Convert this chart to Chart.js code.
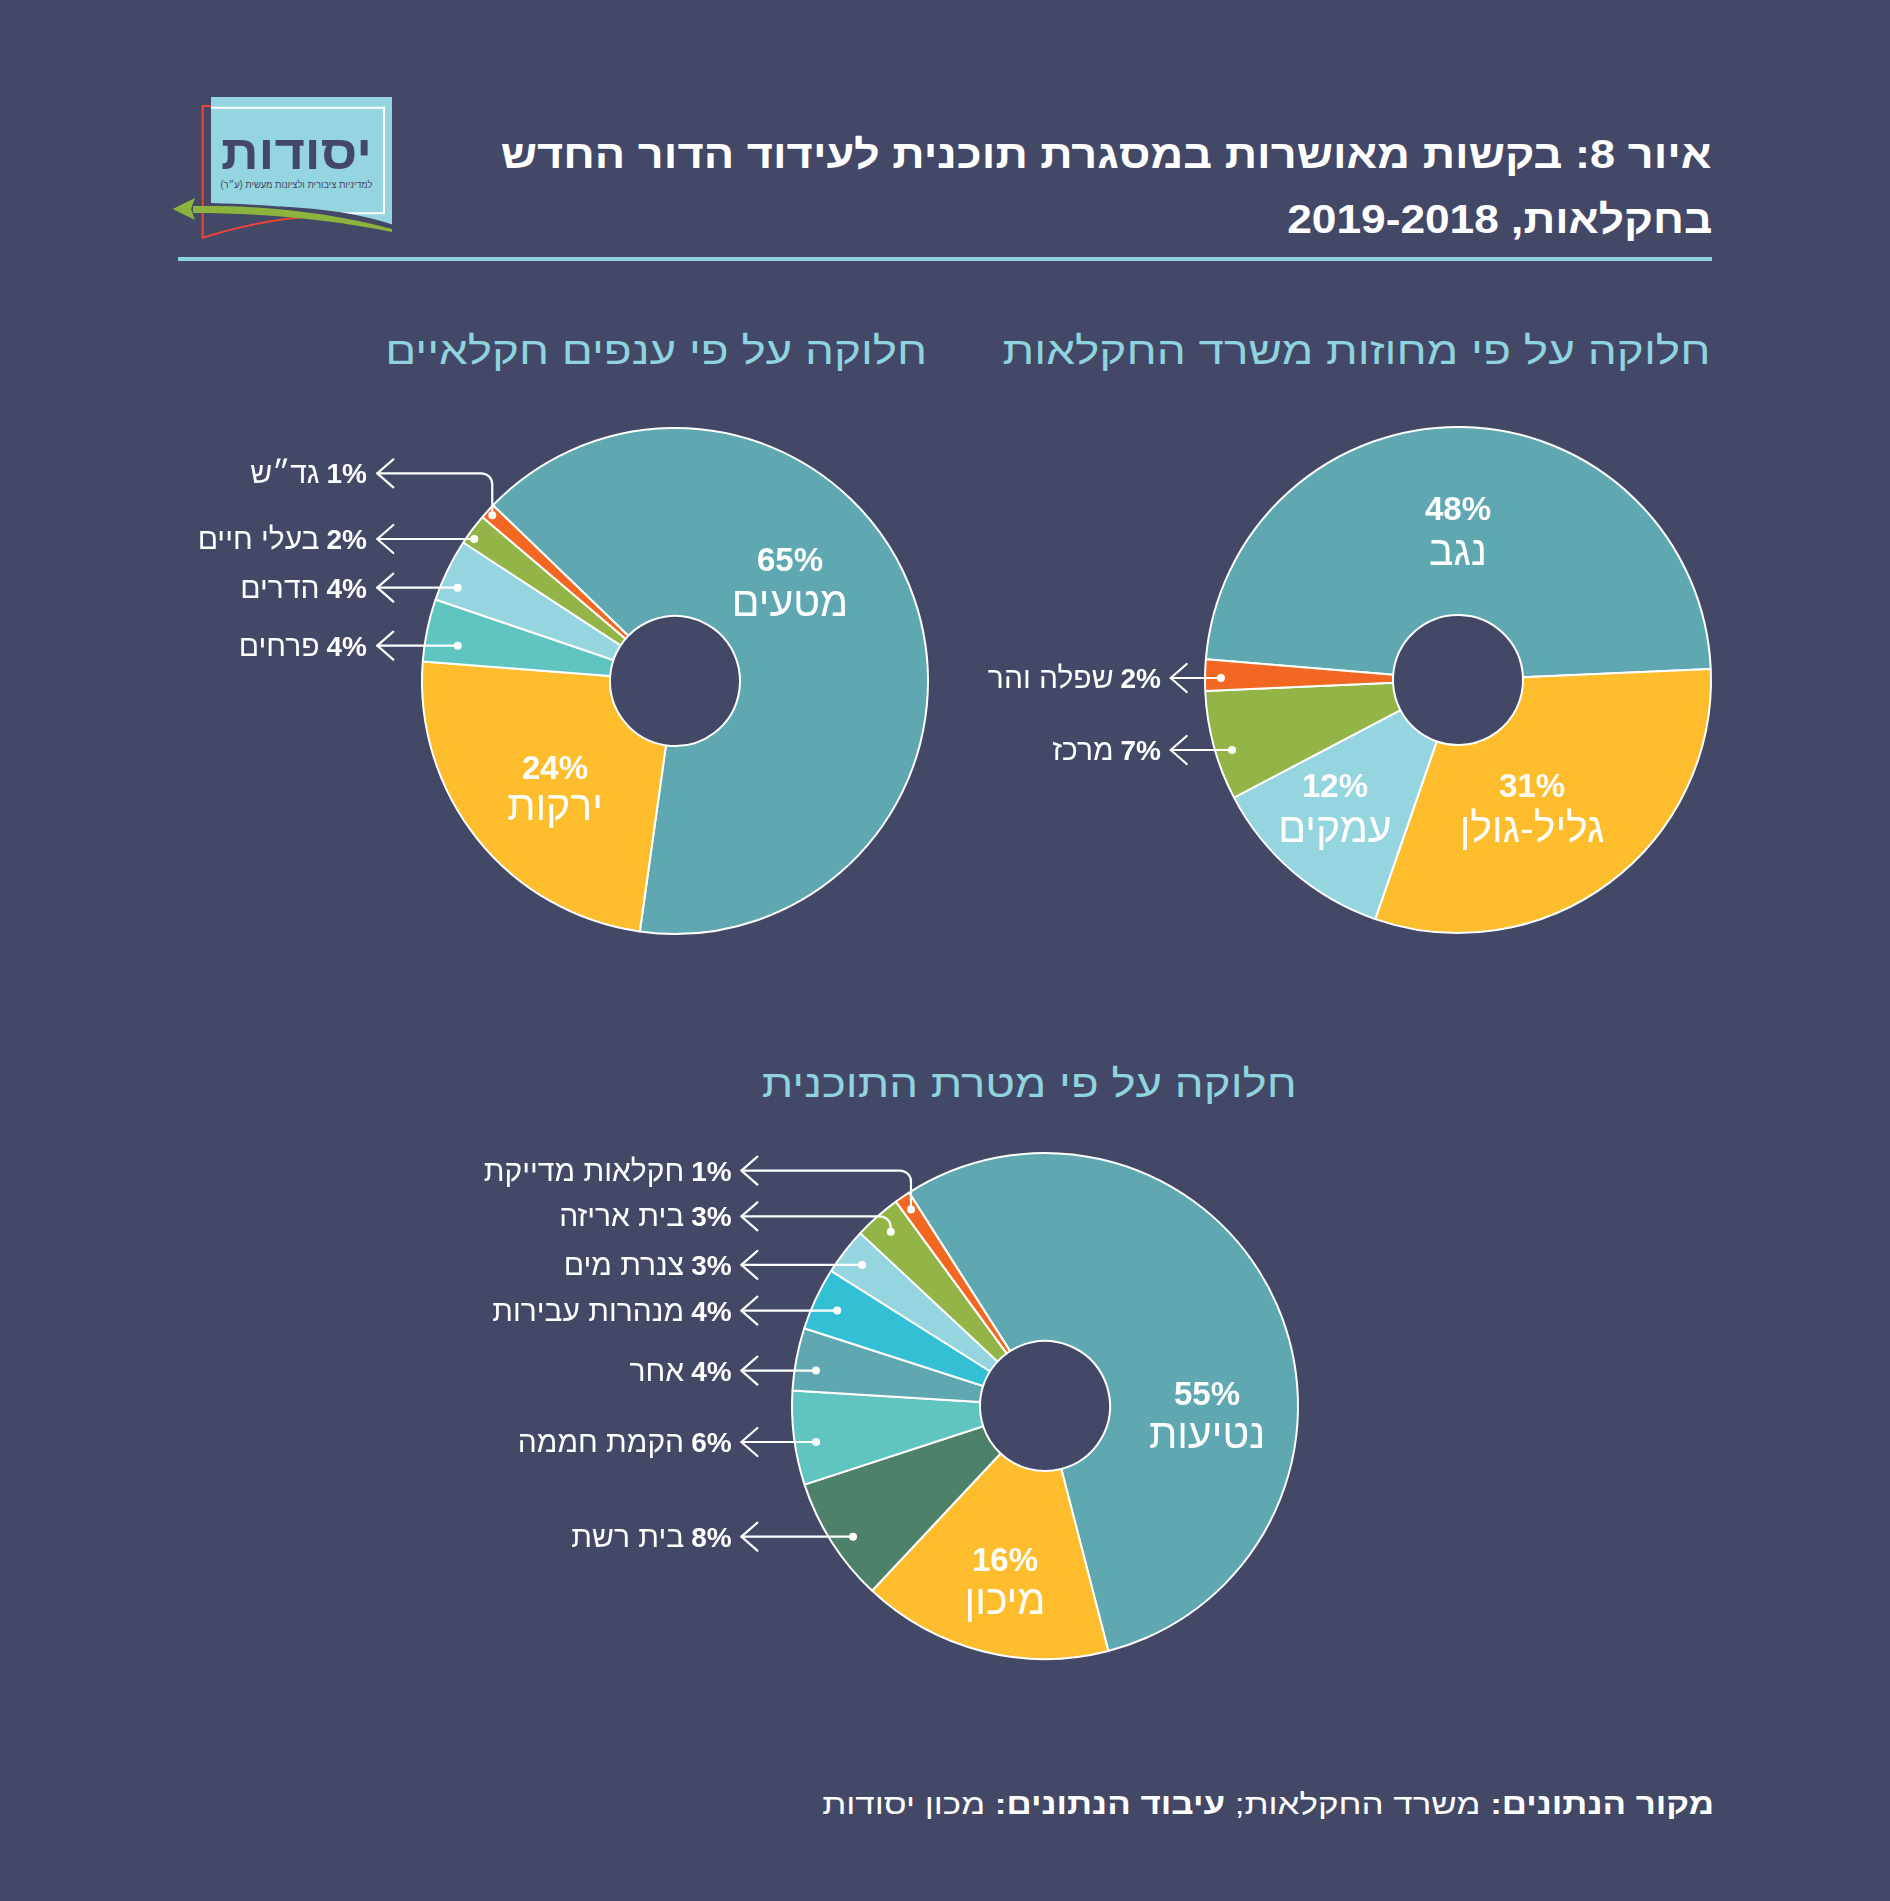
<!DOCTYPE html>
<html lang="he">
<head>
<meta charset="utf-8">
<title>בקשות מאושרות במסגרת תוכנית לעידוד הדור החדש בחקלאות</title>
<script src="https://cdn.jsdelivr.net/npm/chart.js@4.4.1/dist/chart.umd.min.js"></script>
<style>
html, body { margin: 0; padding: 0; background: #434867; }
#page { position: relative; width: 1890px; height: 1901px; overflow: hidden; background: #434867;
  font-family: 'Liberation Sans', 'DejaVu Sans', sans-serif; }
.txt { position: absolute; white-space: nowrap; direction: rtl; line-height: 1; transform-origin: right center; }
.title { color: #fff; font-weight: bold; font-size: 40px; }
.sub { color: #8ed3de; font-size: 38px; }
.foot { color: #fff; font-size: 29px; }
#rule { position: absolute; left: 178px; top: 257px; width: 1534px; height: 4px; background: #8ed3de; }
canvas { position: absolute; }
#logo { position: absolute; left: 160px; top: 85px; }
</style>
</head>
<body>
<div id="page">
  <svg id="logo" width="250" height="160" viewBox="0 0 250 160">
    <path d="M51,12 H232 V141 C200,130 150,121 51,118 Z" fill="#95d5df"/>
    <polyline points="51,22.7 224,22.7 224,128.3 182,128.3" fill="none" stroke="#fff" stroke-width="2"/>
    <path d="M51,21 H42.7 V152.7 C80,141 120,133 157,131" fill="none" stroke="#e8443a" stroke-width="2"/>
    <text x="136.5" y="84" text-anchor="middle" direction="rtl" font-family="Liberation Sans, DejaVu Sans, sans-serif"
      font-weight="bold" font-size="48" fill="#434867" textLength="151" lengthAdjust="spacingAndGlyphs">יסודות</text>
    <text x="136.5" y="103" text-anchor="middle" direction="rtl" font-family="Liberation Sans, DejaVu Sans, sans-serif"
      font-size="10" fill="#434867" textLength="152" lengthAdjust="spacingAndGlyphs">למדיניות ציבורית ולציונות מעשית (ע״ר)</text>
    <path d="M120,123 C165,125 205,132 232,141" fill="none" stroke="#434867" stroke-width="3"/>
    <path d="M33,121 C90,120 160,125 232,144 L232,147 C170,134 100,128 33,128 Z" fill="#8db33f"/>
    <path d="M12.7,124 L35,113 L31,124 L35,135 Z" fill="#8db33f"/>
  </svg>

  <div class="txt title" style="right:178px; top:134px" data-fit="1211">איור 8: בקשות מאושרות במסגרת תוכנית לעידוד הדור החדש</div>
  <div class="txt title" style="right:178px; top:199px" data-fit="425">בחקלאות, 2019-2018</div>
  <div id="rule"></div>

  <div class="txt sub" style="right:180px; top:332px" data-fit="708">חלוקה על פי מחוזות משרד החקלאות</div>
  <div class="txt sub" style="right:963px; top:332px" data-fit="542">חלוקה על פי ענפים חקלאיים</div>
  <div class="txt sub" style="right:593px; top:1065px" data-fit="535">חלוקה על פי מטרת התוכנית</div>

  <canvas id="branchChart" width="870" height="560" style="left:100px; top:400px"></canvas>
  <canvas id="districtChart" width="840" height="560" style="left:900px; top:400px"></canvas>
  <canvas id="goalChart" width="960" height="580" style="left:380px; top:1120px"></canvas>

  <div class="txt foot" style="right:176px; top:1790px" data-fit="892"><b>מקור הנתונים:</b> משרד החקלאות; <b>עיבוד הנתונים:</b> מכון יסודות</div>
</div>

<script>
// Data (percent of approved requests)
const districtLabels = ['נגב', 'גליל-גולן', 'עמקים', 'מרכז', 'שפלה והר'];
const districtValues = [48, 31, 12, 7, 2];

const branchLabels = ['מטעים', 'ירקות', 'פרחים', 'הדרים', 'בעלי חיים', 'גד״ש'];
const branchValues = [65, 24, 4, 4, 2, 1];

const goalLabels = ['נטיעות', 'מיכון', 'בית רשת', 'הקמת חממה', 'אחר', 'מנהרות עבירות', 'צנרת מים', 'בית אריזה', 'חקלאות מדייקת'];
const goalValues = [55, 16, 8, 6, 4, 4, 3, 3, 1];

// Colors
const TEAL = '#5fa8b1', YELLOW = '#fdbd2c', LIGHTBLUE = '#95d5df', MINT = '#60c4c0';
const GREEN = '#93b548', ORANGE = '#f26823', CYAN = '#33c0d5', DARKGREEN = '#4e8169';
const FONT = "'Liberation Sans', 'DejaVu Sans', sans-serif";

// Fit title widths to the layout
document.querySelectorAll('[data-fit]').forEach(el => {
  const w = el.getBoundingClientRect().width;
  el.style.transform = 'scaleX(' + (el.dataset.fit / w) + ')';
});

// Labels inside slices + arrow callouts for the small slices
const sliceLabels = {
  id: 'sliceLabels',
  afterDatasetsDraw(chart, args, opts) {
    const ctx = chart.ctx;
    const meta = chart.getDatasetMeta(0);
    const names = chart.data.labels;
    const values = chart.data.datasets[0].data;
    const cx = meta.data[0].x, cy = meta.data[0].y;
    ctx.save();
    ctx.fillStyle = '#fff';
    ctx.strokeStyle = '#fff';
    ctx.textAlign = 'center';
    ctx.textBaseline = 'alphabetic';

    (opts.inner || []).forEach(l => {
      ctx.direction = 'ltr';
      ctx.font = 'bold 33px ' + FONT;
      ctx.fillText(values[l.i] + '%', cx + l.x, cy + l.y1);
      ctx.direction = 'rtl';
      ctx.font = '41px ' + FONT;
      ctx.fillText(names[l.i], cx + l.x, cy + l.y2);
    });

    ctx.lineWidth = 2.2;
    ctx.lineCap = 'round';
    ctx.lineJoin = 'round';
    (opts.callouts || []).forEach(c => {
      const arc = meta.data[c.i];
      const p = arc.getProps(['startAngle', 'endAngle', 'outerRadius'], true);
      const rr = c.r * p.outerRadius;
      const ly = cy + c.y;
      const tip = cx + opts.tipX;
      let dx, dy;
      if (c.elbow) {
        const mid = (p.startAngle + p.endAngle) / 2;
        dx = cx + rr * Math.cos(mid);
        dy = cy + rr * Math.sin(mid);
      } else {
        dx = cx - Math.sqrt(rr * rr - c.y * c.y);
        dy = ly;
      }
      ctx.beginPath();
      ctx.moveTo(tip, ly);
      if (c.elbow) {
        const k = 11;
        ctx.lineTo(dx - k, ly);
        ctx.arcTo(dx, ly, dx, ly + k, k);
        ctx.lineTo(dx, dy);
      } else {
        ctx.lineTo(dx, dy);
      }
      ctx.stroke();
      // arrow head
      ctx.beginPath();
      ctx.moveTo(tip + 16, ly - 14);
      ctx.lineTo(tip, ly);
      ctx.lineTo(tip + 16, ly + 14);
      ctx.stroke();
      // dot
      ctx.beginPath();
      ctx.arc(dx, dy, 4, 0, Math.PI * 2);
      ctx.fill();
      // text: "n%" bold then the name
      const tx = cx + opts.textX;
      const pct = values[c.i] + '%';
      ctx.textAlign = 'right';
      ctx.direction = 'ltr';
      ctx.font = 'bold 28px ' + FONT;
      ctx.fillText(pct, tx, ly + 10);
      const pw = ctx.measureText(pct).width;
      ctx.direction = 'rtl';
      ctx.font = '30px ' + FONT;
      ctx.fillText(names[c.i], tx - pw - 7, ly + 10);
      ctx.textAlign = 'center';
    });
    ctx.restore();
  }
};

// Build a doughnut whose center sits at (cx, cy) on the page
function makeDonut(id, labels, values, colors, rotation, cx, cy, labelOpts) {
  const canvas = document.getElementById(id);
  const left = parseFloat(canvas.style.left), top = parseFloat(canvas.style.top);
  const half = 270;
  return new Chart(canvas, {
    type: 'doughnut',
    data: {
      labels: labels,
      datasets: [{
        data: values,
        backgroundColor: colors,
        borderColor: '#ffffff',
        borderWidth: 2
      }]
    },
    options: {
      responsive: false,
      animation: false,
      devicePixelRatio: 1,
      events: [],
      rotation: rotation,
      radius: 253,
      cutout: '25.7%',
      layout: {
        padding: {
          left: cx - left - half,
          right: left + canvas.width - cx - half,
          top: cy - top - half,
          bottom: top + canvas.height - cy - half
        }
      },
      plugins: {
        legend: { display: false },
        tooltip: { enabled: false },
        sliceLabels: labelOpts
      }
    },
    plugins: [sliceLabels]
  });
}

makeDonut('branchChart', branchLabels, branchValues,
  [TEAL, YELLOW, MINT, LIGHTBLUE, GREEN, ORANGE], -46, 675, 681, {
    inner: [{ i: 0, x: 115, y1: -110, y2: -65 }, { i: 1, x: -120, y1: 98, y2: 139 }],
    tipX: -297.7, textX: -308,
    callouts: [
      { i: 5, y: -207.7, r: 0.975, elbow: true },
      { i: 4, y: -142, r: 0.972 },
      { i: 3, y: -93.3, r: 0.935 },
      { i: 2, y: -35.3, r: 0.87 }
    ]
  });

makeDonut('districtChart', districtLabels, districtValues,
  [TEAL, YELLOW, LIGHTBLUE, GREEN, ORANGE], -85.3, 1458, 680, {
    inner: [
      { i: 0, x: 0, y1: -160, y2: -115.5 },
      { i: 1, x: 74, y1: 116.5, y2: 162 },
      { i: 2, x: -123, y1: 116.5, y2: 162 }
    ],
    tipX: -287.3, textX: -297,
    callouts: [
      { i: 4, y: -2, r: 0.937 },
      { i: 3, y: 70, r: 0.935 }
    ]
  });

makeDonut('goalChart', goalLabels, goalValues,
  [TEAL, YELLOW, DARKGREEN, MINT, TEAL, CYAN, LIGHTBLUE, GREEN, ORANGE], -32.5, 1045, 1406, {
    inner: [{ i: 0, x: 162, y1: -1.5, y2: 42 }, { i: 1, x: -40, y1: 164.6, y2: 207.5 }],
    tipX: -303.6, textX: -313.4,
    callouts: [
      { i: 8, y: -235.4, r: 0.94, elbow: true },
      { i: 7, y: -189.7, r: 0.92, elbow: true },
      { i: 6, y: -141.1, r: 0.913 },
      { i: 5, y: -95.4, r: 0.904 },
      { i: 4, y: -35.4, r: 0.916 },
      { i: 3, y: 36, r: 0.916 },
      { i: 2, y: 130.7, r: 0.918 }
    ]
  });
</script>
</body>
</html>
